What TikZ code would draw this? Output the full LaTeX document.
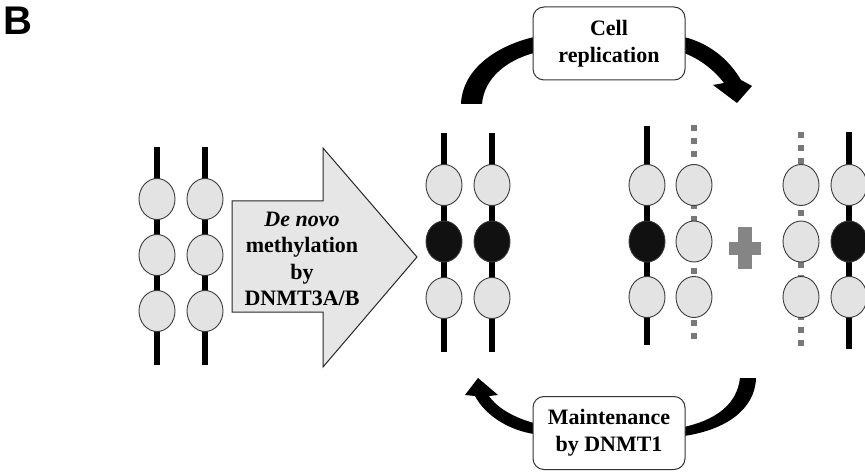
\documentclass[tikz,border=0pt]{standalone}
\usepackage{fontspec}
\setmainfont{Liberation Serif}
\newfontfamily\labelfont{Liberation Sans}
\usetikzlibrary{shapes.geometric}
\definecolor{cfill}{HTML}{E3E3E3}
\definecolor{circ}{HTML}{3A3A3A}
\definecolor{mfill}{HTML}{111111}
\definecolor{afill}{HTML}{E6E6E6}
\definecolor{hgray}{HTML}{787878}
\definecolor{pgray}{HTML}{858585}
\definecolor{boxc}{HTML}{333333}
\begin{document}
\begin{tikzpicture}[x=1pt,y=-1pt,
  strand/.style={line width=6pt, black},
  hstrand/.style={line width=6pt, hgray, dash pattern=on 6pt off 7pt},
  cyto/.style={ellipse, draw=circ, line width=0.9pt, fill=cfill, minimum width=36pt, minimum height=41pt, inner sep=0pt},
  meth/.style={cyto, fill=mfill},
  labelbox/.style={draw=boxc, line width=1pt, rounded corners=11pt, minimum width=152pt, minimum height=73pt, align=center, font=\fontsize{22}{27}\selectfont\bfseries, fill=white, inner sep=0pt},
  txt/.style={font=\fontsize{22}{26.5}\selectfont\bfseries, align=center, inner sep=0pt}]
\useasboundingbox (0,0) rectangle (865,473);
% panel label
\node[font=\labelfont\bfseries\fontsize{40}{40}\selectfont, anchor=north west, inner sep=0pt] (lab) at (3,7) {B};
% strand end points
\foreach \n/\x/\t/\b in {a/157/147/365, b/205/147/365, c/444/133/352, d/492/133/352, e/647/126/345, f/694/125/343, g/801/132/348, h/849/132/349}{
  \coordinate (\n top) at (\x,\t);
  \coordinate (\n bot) at (\x,\b);
}
\foreach \n in {a,b,c,d,e,h}{ \draw[strand] (\n top) -- (\n bot); }
\foreach \n in {f,g}{ \draw[hstrand] (\n top) -- (\n bot); }
% cytosines
\foreach \n/\x in {a/157, b/205}{
  \node[cyto] (\n1) at (\x,199) {};
  \node[cyto] (\n2) at (\x,255) {};
  \node[cyto] (\n3) at (\x,311) {};
}
\foreach \n/\x in {c/444, d/492}{
  \node[cyto] (\n1) at (\x,185) {};
  \node[meth] (\n2) at (\x,241.5) {};
  \node[cyto] (\n3) at (\x,298) {};
}
\foreach \n/\x/\s in {e/647/meth, f/694/cyto, g/801/cyto, h/849/meth}{
  \node[cyto] (\n1) at (\x,185) {};
  \node[\s] (\n2) at (\x,241.5) {};
  \node[cyto] (\n3) at (\x,297) {};
}
% plus sign
\fill[pgray] (729,242) rectangle (761,255);
\fill[pgray] (738,227) rectangle (752,269);
% big arrow
\draw[draw=black!85, line width=1pt, fill=afill, line join=miter]
  (232,201) -- (323,201) -- (323,148) -- (417,257) -- (323,367) -- (323,312) -- (232,312) -- cycle;
\node[txt] (dn) at (302,259) {\textit{De novo}\\methylation\\by\\DNMT3A/B};
% curved arrows
\fill (461,104) .. controls (462,72) and (492,47) .. (534,37) -- (534,53) .. controls (507,60) and (484,78) .. (482,104) -- cycle;
\fill (684,37) .. controls (708,43) and (728,58) .. (741,80) -- (752,86) -- (737,103) -- (713,85) -- (724,83) .. controls (714,70) and (700,59) .. (684,53) -- cycle;
\fill (740,378) -- (756,378) .. controls (755,410) and (725,430) .. (684,436) -- (684,427) .. controls (715,420) and (737,405) .. (740,378) -- cycle;
\fill (534,423) .. controls (515,418) and (497,408) .. (489,396) -- (498,395) -- (478,378) -- (465,395) -- (475,396) .. controls (485,415) and (508,430) .. (534,434) -- cycle;
% boxes
\node[labelbox] (rep) at (609,43.5) {Cell\\replication};
\node[labelbox] (mnt) at (609,433) {Maintenance\\by DNMT1};
\end{tikzpicture}
\end{document}
